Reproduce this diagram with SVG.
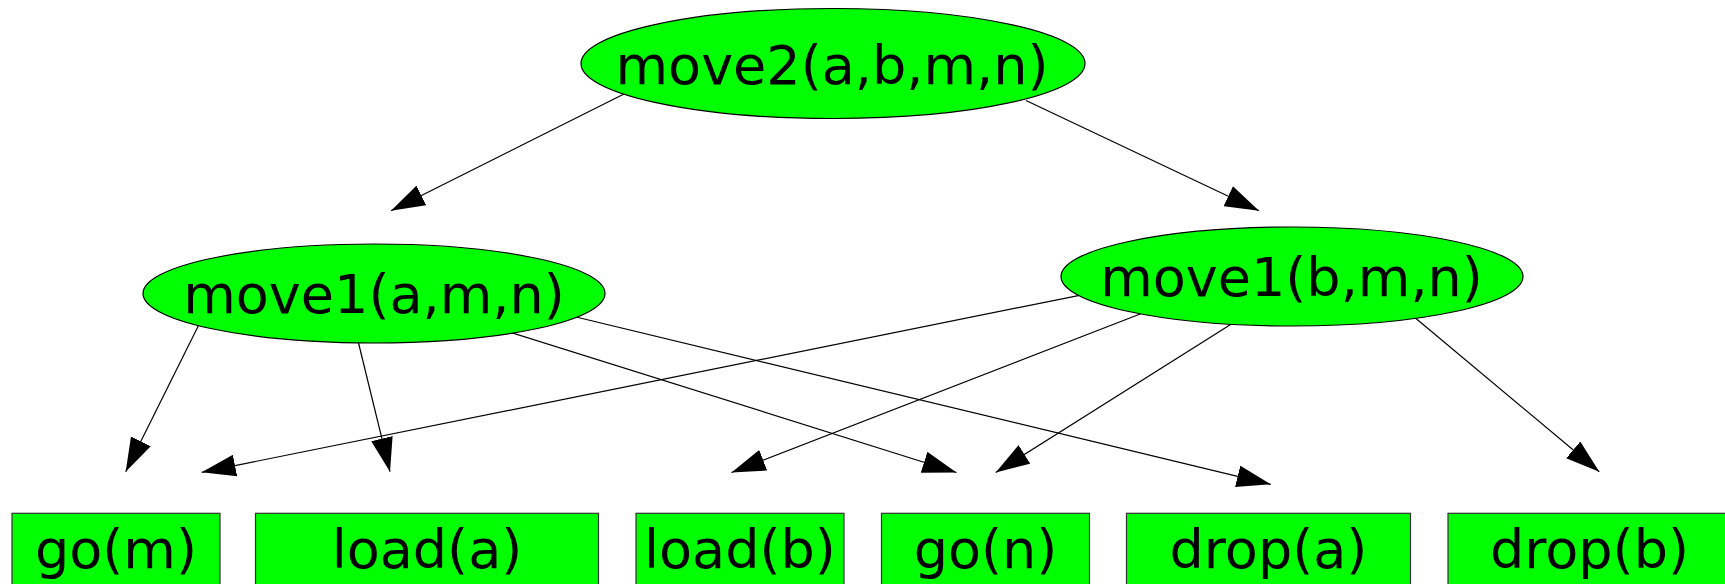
<svg xmlns="http://www.w3.org/2000/svg" width="1725" height="584" viewBox="0 0 1725 584">
<style>
.n{fill:#00ff00;stroke:#000;stroke-width:1.2}
.b{fill:#00ff00;stroke:#333;stroke-width:1.2}
.t{font-family:"DejaVu Sans",sans-serif;font-size:54px;fill:#000;text-anchor:middle}
.e{fill:none;stroke:#000;stroke-width:1.2;marker-end:url(#ah)}
</style>
<defs>
<marker id="ah" markerUnits="userSpaceOnUse" markerWidth="34" markerHeight="22" viewBox="0 0 34 22" refX="34" refY="11" orient="auto">
<path d="M0,0 L34,11 L0,22 z" fill="#000"/>
</marker>
</defs>
<rect width="1725" height="584" fill="#fff"/>
<g id="connectors">
<path class="e" d="M626,93 L391,210.7"/>
<path class="e" d="M1026,100.5 L1259,210.7"/>
<path class="e" d="M199,324.5 L125.7,471.7"/>
<path class="e" d="M357.8,340 L390,471.7"/>
<path class="e" d="M508,331.5 L956.5,472.5"/>
<path class="e" d="M574,316.5 L1270.7,484.3"/>
<path class="e" d="M1082,294.8 L201.7,472.3"/>
<path class="e" d="M1144,312.5 L731.5,472.5"/>
<path class="e" d="M1233,323 L995.7,472.5"/>
<path class="e" d="M1413,316 L1599.3,471.7"/>
</g>
<g id="move2">
<ellipse class="n" cx="833" cy="63.5" rx="252" ry="55"/>
<text class="t" x="832" y="83.5">move2(a,b,m,n)</text>
</g>
<g id="move1a">
<ellipse class="n" cx="374" cy="293.5" rx="231" ry="49.5"/>
<text class="t" x="374" y="313.3">move1(a,m,n)</text>
</g>
<g id="move1b">
<ellipse class="n" cx="1292" cy="276.5" rx="231" ry="49.5"/>
<text class="t" x="1291.5" y="295.5">move1(b,m,n)</text>
</g>
<g id="gom">
<rect class="b" x="12" y="513.3" width="208" height="90"/>
<text class="t" x="116" y="568.3">go(m)</text>
</g>
<g id="loada">
<rect class="b" x="255.5" y="513.3" width="343" height="90"/>
<text class="t" x="427" y="568.3">load(a)</text>
</g>
<g id="loadb">
<rect class="b" x="636" y="513.3" width="208" height="90"/>
<text class="t" x="740" y="568.3">load(b)</text>
</g>
<g id="gon">
<rect class="b" x="881.5" y="513.3" width="208" height="90"/>
<text class="t" x="985.5" y="568.3">go(n)</text>
</g>
<g id="dropa">
<rect class="b" x="1126.5" y="513.3" width="284" height="90"/>
<text class="t" x="1268.5" y="568.3">drop(a)</text>
</g>
<g id="dropb">
<rect class="b" x="1448" y="513.3" width="283" height="90"/>
<text class="t" x="1589.5" y="568.3">drop(b)</text>
</g>
</svg>
